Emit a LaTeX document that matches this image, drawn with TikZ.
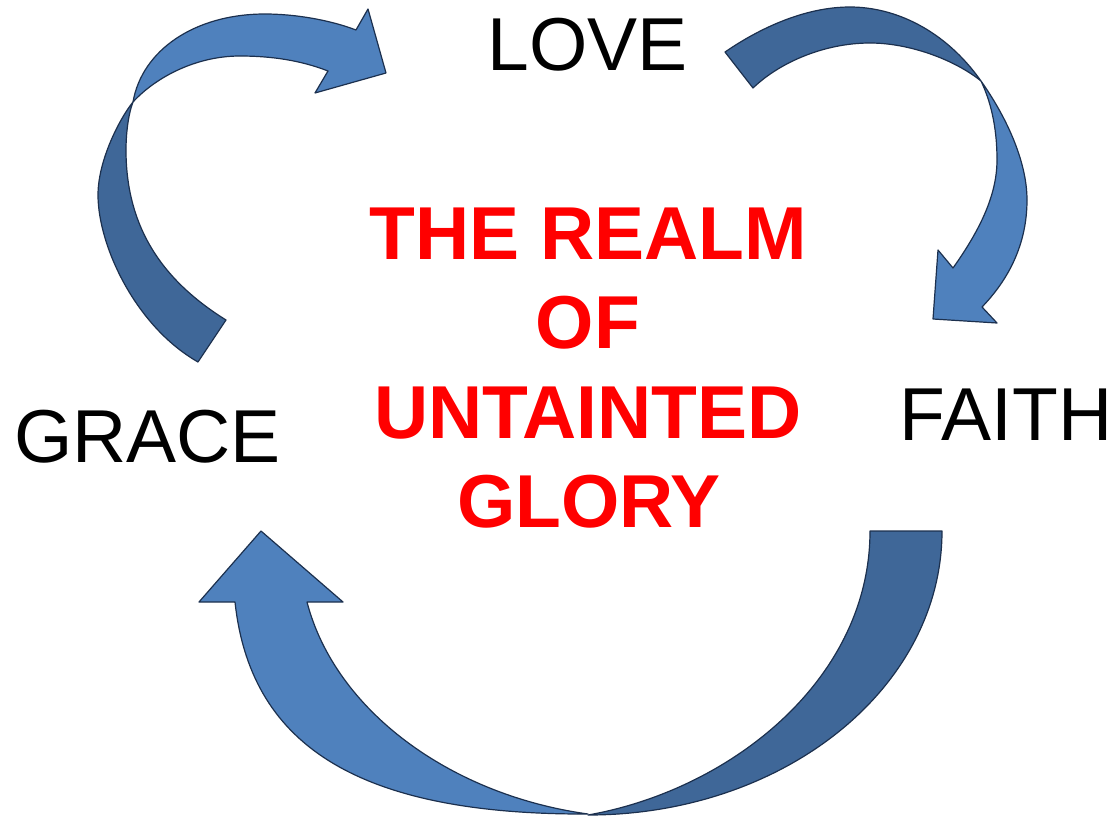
\documentclass[tikz,border=0pt]{standalone}
\usepackage{fontspec}
\setmainfont{Liberation Sans}
\definecolor{lightblue}{RGB}{79,129,189}
\definecolor{darkblue}{RGB}{63,103,152}
\definecolor{edgeblue}{RGB}{28,48,78}
\begin{document}
\begin{tikzpicture}[x=1pt,y=-1pt,
  arrowlight/.style={fill=lightblue,draw=edgeblue,line width=1.2pt,line join=round},
  arrowdark/.style={fill=darkblue,draw=edgeblue,line width=1.2pt,line join=round},
  word/.style={font=\fontsize{75}{90}\selectfont,anchor=base,inner sep=0pt},
  realm/.style={font=\fontsize{75}{90}\selectfont\bfseries,text=red,anchor=base,inner sep=0pt}]
\useasboundingbox (0,0) rectangle (1114,816);

% ---- arrow GRACE -> LOVE (top left)
\path[arrowdark] (198,362) .. controls (135,326) and (98,245) .. (98,195)
  .. controls (98,160) and (120,118) .. (133,102)
  .. controls (128,115) and (126,135) .. (126,150)
  .. controls (126,230) and (165,282) .. (226,320) -- cycle;
\path[arrowlight] (133,102) .. controls (142,50) and (195,14) .. (265,14)
  .. controls (295,14) and (330,20) .. (356,30)
  -- (368,9) -- (386,73) -- (315,93) -- (328,71)
  .. controls (300,60) and (270,56) .. (240,56)
  .. controls (195,56) and (155,78) .. (133,102) -- cycle;

% ---- arrow LOVE -> FAITH (top right)
\path[arrowdark] (725,52) .. controls (760,28) and (805,7) .. (850,7)
  .. controls (895,7) and (945,30) .. (981,81)
  .. controls (955,60) and (910,43) .. (870,43)
  .. controls (825,43) and (780,62) .. (753,88) -- cycle;
\path[arrowlight] (981,81) .. controls (1005,115) and (1027,160) .. (1027,200)
  .. controls (1027,245) and (1008,280) .. (982,307)
  -- (997,323) -- (933,319) -- (938,250) -- (953,268)
  .. controls (980,230) and (997,195) .. (997,160)
  .. controls (997,125) and (990,100) .. (981,81) -- cycle;

% ---- arrow FAITH -> GRACE (bottom)
\path[arrowdark] (870,531) -- (942,531)
  .. controls (942,688) and (784,815) .. (588,815)
  .. controls (730,790) and (870,680) .. (870,531) -- cycle;
\path[arrowlight] (261,531) -- (343,602) -- (307,602)
  .. controls (335,710) and (450,795) .. (588,814)
  .. controls (350,815) and (250,740) .. (235,602)
  -- (199,602) -- cycle;

% ---- texts
\node[word] (love) at (587.5,70.7) {LOVE};
\node[word] (grace) at (147.5,462.3) {GRACE};
\node[word] (faith) at (1006,440) {FAITH};
\node[realm] (realm1) at (588,259) {THE REALM};
\node[realm] (realm2) at (588,348) {OF};
\node[realm] (realm3) at (588,438) {UNTAINTED};
\node[realm] (realm4) at (589,527) {GLORY};
\end{tikzpicture}
\end{document}
